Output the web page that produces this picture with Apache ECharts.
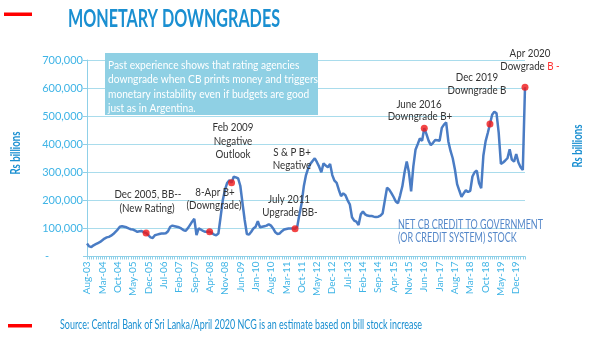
<!DOCTYPE html>
<html><head><meta charset="utf-8">
<script src="https://cdn.jsdelivr.net/npm/echarts@6/dist/echarts.min.js"></script>
<style>html,body{margin:0;padding:0;background:#fff}#c{width:600px;height:338px}</style>
</head><body><div id="c"></div>
<script>
// ---- data ----
const monthNames = ['Jan','Feb','Mar','Apr','May','Jun','Jul','Aug','Sep','Oct','Nov','Dec'];
const startYear = 2003, startMonthIdx = 7, monthCount = 201; // Aug-03 .. Apr-20
const categories = [];
for (let i = 0; i < monthCount; i++) {
  const m = (startMonthIdx + i) % 12, y = startYear + Math.floor((startMonthIdx + i) / 12);
  categories.push(monthNames[m] + '-' + String(y % 100).padStart(2, '0'));
}
const creditStock = [
  46000,36000,34000,40000,44000,48000,52000,58000,64000,68000,
  70000,74000,80000,88000,96000,106000,108000,106000,104000,100000,
  97000,96000,92000,88000,90000,91000,86000,84000,76000,68000,
  66000,76000,78000,80000,82000,82000,83000,90000,106000,110000,
  108000,106000,104000,100000,94000,91000,100000,112000,124000,134000,
  76000,100000,96000,91000,88000,88000,88000,84000,78000,76000,
  82000,140000,200000,237000,262000,272000,263000,284000,282000,278000,
  252000,190000,130000,80000,78000,88000,100000,106000,126000,104000,
  106000,108000,110000,115000,110000,100000,86000,80000,82000,90000,
  96000,98000,100000,100000,100000,99000,106000,150000,190000,250000,
  290000,314000,330000,340000,350000,336000,320000,300000,332000,324000,
  318000,330000,290000,270000,262000,237000,215000,225000,218000,200000,
  186000,140000,128000,124000,112000,150000,160000,150000,146000,144000,
  144000,142000,141000,142000,146000,154000,200000,245000,238000,226000,
  212000,196000,190000,218000,250000,300000,338000,300000,232000,320000,
  380000,400000,421000,412000,457000,436000,412000,397000,405000,415000,
  414000,412000,458000,470000,478000,410000,376000,350000,310000,258000,
  235000,213000,225000,236000,230000,234000,285000,300000,306000,262000,
  243000,360000,410000,440000,472000,505000,516000,510000,440000,330000,
  335000,342000,350000,382000,345000,338000,365000,335000,318000,308000,
  603000
];
const ratingEventCategories = ['Nov-05','Apr-08','Feb-09','Jul-11','Jun-16','Dec-18','Apr-20'];
const ratingEventValues = [84000, 88000, 263000, 99000, 457000, 472000, 603000];
const yMin = 0, yMax = 700000, yStep = 100000;
const titleText = 'MONETARY DOWNGRADES';
const boxLines = [
  'Past experience shows that rating agencies',
  'downgrade when CB prints money and triggers',
  'monetary instability even if budgets are good',
  'just as in Argentina.'
];
const annotationTexts = [
  'Dec 2005, BB--', '(New Rating)',
  '8-Apr B+', '(Downgrade)',
  'Feb 2009', 'Negative', 'Outlook',
  'S & P B+', 'Negative',
  'July 2011', 'Upgrade BB-',
  'June 2016', 'Downgrade B+',
  'Dec 2019', 'Downgrade B',
  'Apr 2020'
];
const lastAnnotation = ['Dowgrade ', 'B -'];
const seriesLabelLines = ['NET CB CREDIT TO GOVERNMENT', '(OR CREDIT SYSTEM) STOCK'];
const axisName = 'Rs billions';
const sourceText = 'Source: Central Bank of Sri Lanka/April 2020 NCG is an estimate based on bill stock increase';

// ---- layout / style ----
const annPos = [[148,194],[147,208],[215,192],[214,205],[233,127],[233,141],[233,154],[292,152],[292,165],[289,199],[290,212],[419,104],[420,116],[477,77],[477,90],[530,53]];
const sansFam = "Lato,'Noto Sans',sans-serif";
const blue = '#1a8fd1', lightBlue = '#3fb4e6', gridCol = '#a9dcec';
const mctx = document.createElement('canvas').getContext('2d');
function fitScale(text, font, target){ mctx.font = font; return target / mctx.measureText(text).width; }

const titleFont = "bold 25px " + sansFam;
const boxFont = "12px " + sansFam;
const srcFont = "13px " + sansFam;
const netFont = "14px " + sansFam;
const axFont = "bold 14px " + sansFam;
const annFont = "11px " + sansFam;
const titleScale = fitScale(titleText, titleFont, 212);
const boxScale = fitScale(boxLines[1], boxFont, 210);
const srcScale = fitScale(sourceText, srcFont, 362);
const netScale = fitScale(seriesLabelLines[0], netFont, 145);
const axScale = fitScale(axisName, axFont, 43);
const annScale = fitScale(annotationTexts[0], annFont, 67);

const graphics = [
  {type:'rect', shape:{x:4,y:12.5,width:28,height:3.5}, style:{fill:'#ff0000'}},
  {type:'rect', shape:{x:8,y:324,width:24,height:3.5}, style:{fill:'#ff0000'}},
  {type:'text', x:68, y:19, scaleX:titleScale, style:{text:titleText, font:titleFont, fill:blue, textVerticalAlign:'middle'}},
  {type:'rect', shape:{x:105,y:53,width:213,height:62}, style:{fill:'#8fd0e4'}},
  {type:'text', x:15, y:153, rotation:Math.PI/2, scaleX:axScale, style:{text:axisName, font:axFont, fill:blue, textAlign:'center', textVerticalAlign:'middle'}},
  {type:'text', x:577, y:146, rotation:Math.PI/2, scaleX:axScale, style:{text:axisName, font:axFont, fill:blue, textAlign:'center', textVerticalAlign:'middle'}},
  {type:'text', x:60, y:325, scaleX:srcScale, style:{text:sourceText, font:srcFont, fill:blue, textVerticalAlign:'middle'}},
  {type:'text', x:398, y:224, scaleX:netScale, style:{text:seriesLabelLines[0], font:netFont, fill:'#5487c9', textVerticalAlign:'middle'}},
  {type:'text', x:398, y:237, scaleX:netScale, style:{text:seriesLabelLines[1], font:netFont, fill:'#5487c9', textVerticalAlign:'middle'}},
  {type:'text', x:530, y:66, scaleX:annScale, style:{text:'{a|'+lastAnnotation[0]+'}{b|'+lastAnnotation[1]+'}', rich:{a:{font:annFont, fill:'#333'}, b:{font:annFont, fill:'#ff3030'}}, textAlign:'center', textVerticalAlign:'middle'}}
];
boxLines.forEach((t,i)=>graphics.push({type:'text', x:108, y:65+i*14.4, scaleX:boxScale, style:{text:t, font:boxFont, fill:'#ffffff', textVerticalAlign:'middle'}}));
annotationTexts.forEach((t,i)=>graphics.push({type:'text', x:annPos[i][0], y:annPos[i][1], scaleX:annScale, style:{text:t, font:annFont, fill:'#333', textAlign:'center', textVerticalAlign:'middle'}}));
graphics.forEach(g=>{ g.z = 50; });

const chart = echarts.init(document.getElementById('c'), null, {renderer:'canvas'});
chart.setOption({
  animation:false,
  backgroundColor:'#ffffff',
  grid:{left:87, right:75, top:60, bottom:81.5},
  xAxis:{
    type:'category', data:categories, boundaryGap:false,
    axisLine:{lineStyle:{color:'#8fd0e8', width:1}},
    axisTick:{show:true, interval:0, length:3, lineStyle:{color:'#8fd0e8'}},
    axisLabel:{interval:6, rotate:90, color:lightBlue, fontSize:10, fontFamily:sansFam, margin:5},
    splitLine:{show:false}
  },
  yAxis:{
    type:'value', min:yMin, max:yMax, interval:yStep,
    axisLine:{show:true, lineStyle:{color:'#8fd0e8'}},
    axisTick:{show:true, length:4, lineStyle:{color:'#8fd0e8'}},
    axisLabel:{color:lightBlue, fontSize:11, fontFamily:sansFam, margin:4,
      formatter:v=> v===0 ? '-            ' : v.toLocaleString('en-US')},
    splitLine:{lineStyle:{color:gridCol, width:1}}
  },
  series:[
    {type:'line', data:creditStock, symbol:'none', smooth:false,
     lineStyle:{color:'#4a7cc4', width:2.5}, z:2},
    {type:'scatter', data:ratingEventCategories.map((c,i)=>[c, ratingEventValues[i]]),
     symbol:'circle', symbolSize:7, itemStyle:{color:'#f01818'}, z:3}
  ],
  graphic:graphics
});
</script></body></html>
